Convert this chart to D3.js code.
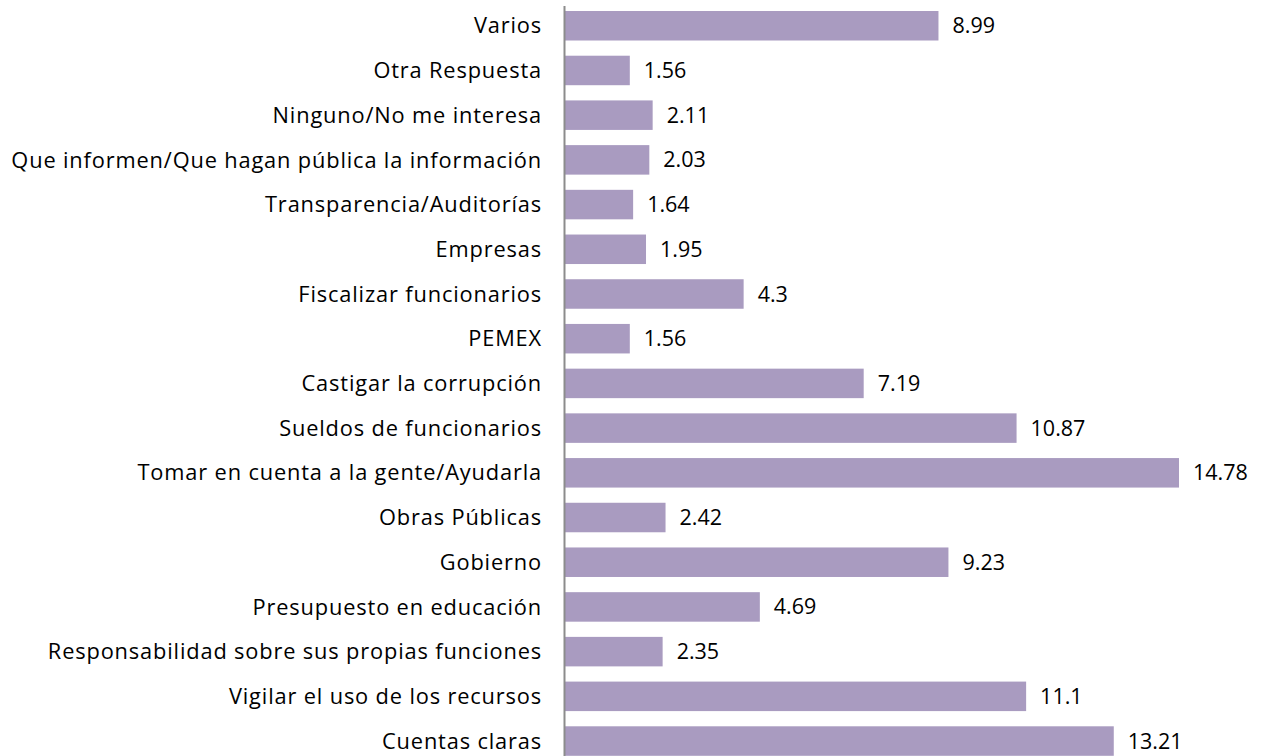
<!DOCTYPE html>
<html><head><meta charset="utf-8">
<script src="https://cdn.jsdelivr.net/npm/d3@7"></script>
<style>body{margin:0;background:#fff}svg{display:block}text{font-family:"Open Sans",sans-serif;fill:#000}</style>
</head><body><svg id="c" width="1266" height="756"></svg>
<script>
const categories = ["Varios","Otra Respuesta","Ninguno/No me interesa","Que informen/Que hagan pública la información","Transparencia/Auditorías","Empresas","Fiscalizar funcionarios","PEMEX","Castigar la corrupción","Sueldos de funcionarios","Tomar en cuenta a la gente/Ayudarla","Obras Públicas","Gobierno","Presupuesto en educación","Responsabilidad sobre sus propias funciones","Vigilar el uso de los recursos","Cuentas claras"];
const values = [8.99,1.56,2.11,2.03,1.64,1.95,4.3,1.56,7.19,10.87,14.78,2.42,9.23,4.69,2.35,11.1,13.21];

const svg = d3.select("#c");
const x0 = 565;
const x = d3.scaleLinear().domain([0, 14.78]).range([x0, 1179]);
const y = d3.scaleBand().domain(categories).range([3.4, 763.4]).paddingInner(0.34).paddingOuter(0.17);

svg.selectAll("rect.bar").data(values).enter().append("rect")
  .attr("x", x0).attr("y", (d,i)=>y(categories[i]))
  .attr("width", d=>x(d)-x0).attr("height", y.bandwidth())
  .attr("fill", "#A99BC0");

svg.append("line").attr("x1", x0-0.5).attr("x2", x0-0.5).attr("y1", 6).attr("y2", 756)
  .attr("stroke", "#8c8c8c").attr("stroke-width", 2);

svg.selectAll("text.cat").data(categories).enter().append("text")
  .attr("x", 542).attr("y", d=>y(d)+y.bandwidth()/2).attr("dy","0.35em")
  .attr("text-anchor","end").attr("font-size", 21.8).attr("letter-spacing", "0.85px").text(d=>d);

svg.selectAll("text.val").data(values).enter().append("text")
  .attr("x", d=>x(d)+14).attr("y", (d,i)=>y(categories[i])+y.bandwidth()/2).attr("dy","0.35em")
  .attr("font-size", 21.5).text(d=>d);
</script></body></html>
